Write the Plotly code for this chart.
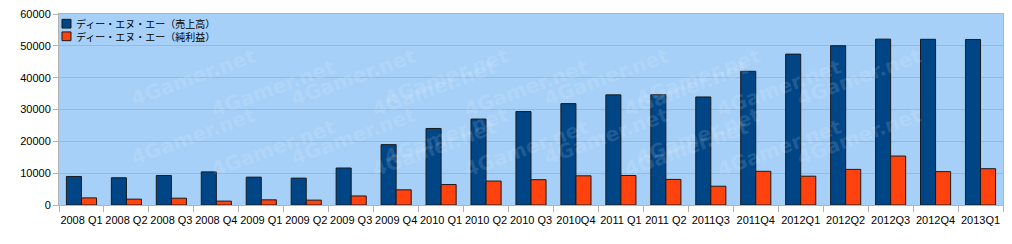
import plotly.graph_objects as go

categories = ["2008 Q1", "2008 Q2", "2008 Q3", "2008 Q4",
              "2009 Q1", "2009 Q2", "2009 Q3", "2009 Q4",
              "2010 Q1", "2010 Q2", "2010 Q3", "2010Q4",
              "2011 Q1", "2011 Q2", "2011Q3", "2011Q4",
              "2012Q1", "2012Q2", "2012Q3", "2012Q4", "2013Q1"]
sales = [8960, 8560, 9270, 10400, 8750, 8440, 11620, 18960,
         24040, 27000, 29360, 31850, 34600, 34650, 33940, 42000,
         47400, 50040, 52100, 52050, 52000]
net_income = [2230, 1830, 2140, 1220, 1620, 1530, 2840, 4770,
              6420, 7520, 7950, 9170, 9270, 8040, 5900, 10580,
              9050, 11190, 15380, 10490, 11400]
series_names = ["ディー・エヌ・エー（売上高）", "ディー・エヌ・エー（純利益）"]
series_colors = ["#004586", "#ff420e"]
y_ticks = [0, 10000, 20000, 30000, 40000, 50000, 60000]

W, H = 1012, 244
ML, MR, MT, MB = 59, 8, 8, 39
PW, PH = W - ML - MR, H - MT - MB

fig = go.Figure()
for name, vals, col in zip(series_names, [sales, net_income], series_colors):
    fig.add_bar(x=categories, y=vals, name=name, showlegend=False,
                marker=dict(color=col, line=dict(color="#1a1a1a", width=1)))

# faint tiled watermark text
annotations = []
for iy in range(4):
    for ix in range(6):
        xp = 0.07 + ix * 0.17 + (0.085 if iy % 2 else 0)
        if xp > 0.93:
            continue
        annotations.append(dict(
            text="<b>4Gamer.net</b>", xref="paper", yref="paper",
            x=xp, y=0.86 - iy * 0.25,
            showarrow=False, textangle=-20,
            font=dict(family="DejaVu Sans", size=20, color="rgba(255,255,255,0.13)"),
        ))

# compact legend (square swatch + text), top-left inside plot
shapes = []
for i, (name, col) in enumerate(zip(series_names, series_colors)):
    cy = 18 + i * 13  # pixel row centre from top
    yc = (H - MB - cy) / PH
    x0 = (62 - ML) / PW
    x1 = (71 - ML) / PW
    shapes.append(dict(type="rect", xref="paper", yref="paper",
                       x0=x0, x1=x1, y0=yc - 4.5 / PH, y1=yc + 4.5 / PH,
                       fillcolor=col, line=dict(color="#1a1a1a", width=1)))
    annotations.append(dict(text=name, xref="paper", yref="paper",
                            x=(74 - ML) / PW, y=yc, xanchor="left", yanchor="middle",
                            showarrow=False,
                            font=dict(family="Noto Sans CJK JP", size=10, color="black")))

fig.update_layout(
    width=W, height=H,
    margin=dict(l=ML, r=MR, t=MT, b=MB),
    paper_bgcolor="white",
    plot_bgcolor="#a6d0f8",
    barmode="group", bargap=0.33, bargroupgap=0,
    font=dict(family="Liberation Sans, Arial, sans-serif", size=11, color="black"),
    showlegend=False,
    annotations=annotations,
    shapes=shapes,
    xaxis=dict(type="category", tickmode="array", tickvals=categories,
               ticktext=categories, ticks="outside", tickson="boundaries",
               ticklen=6, tickcolor="#b3b3b3", showgrid=False,
               showline=True, linecolor="#b3b3b3", mirror=True,
               tickfont=dict(size=11), tickangle=0, ticklabelstandoff=5),
    yaxis=dict(range=[0, 60000], tickvals=y_ticks, ticks="outside",
               ticklen=5, tickcolor="#b3b3b3", showgrid=True,
               gridcolor="#b3b3b3", gridwidth=1, zeroline=False,
               showline=True, linecolor="#b3b3b3", mirror=True,
               tickformat="d", tickfont=dict(size=11)),
)
fig.write_html("out.html")
